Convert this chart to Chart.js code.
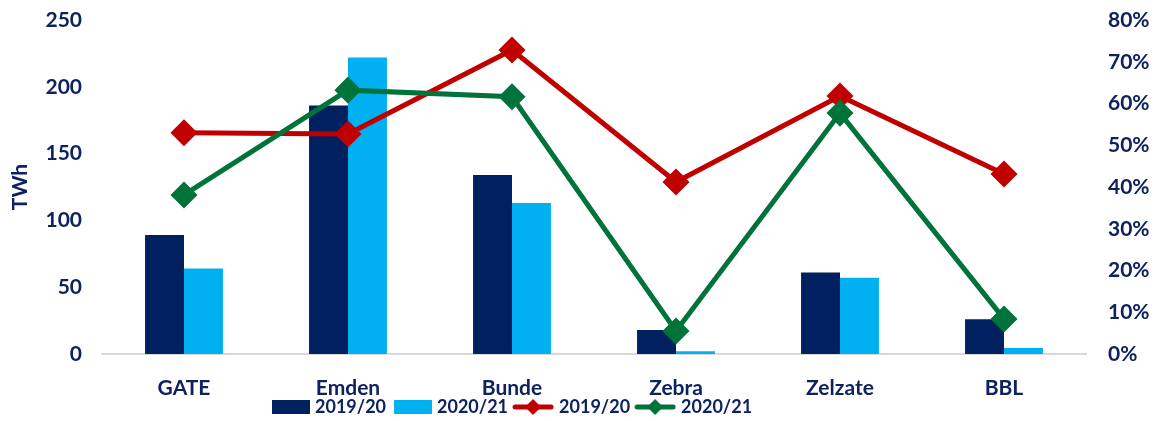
<!DOCTYPE html>
<html>
<head>
<meta charset="utf-8">
<script src="https://cdn.jsdelivr.net/npm/chart.js@4.4.1/dist/chart.umd.min.js"></script>
<style>
  html, body { margin: 0; padding: 0; background: #fff; }
  #wrap { width: 1156px; height: 421px; position: relative; }
</style>
</head>
<body>
<div id="wrap"><canvas id="chart"></canvas></div>
<script>
// data
const categories = ['GATE', 'Emden', 'Bunde', 'Zebra', 'Zelzate', 'BBL'];
const twh1920 = [89, 186, 134, 18, 61, 26];
const twh2021 = [64, 222, 113, 2, 57, 4.5];
const pct1920 = [53, 52.7, 72.8, 41.2, 61.8, 43.1];
const pct2021 = [38.1, 63.2, 61.6, 5.5, 57.7, 8.4];
const leftTicks = [0, 50, 100, 150, 200, 250];
const rightTicks = [0, 10, 20, 30, 40, 50, 60, 70, 80];

const NAVY = '#002060';
const CYAN = '#00b0f0';
const RED = '#c00000';
const GREEN = '#00733a';
const TEXT = '#0e2260';
const FONT = { family: 'Lato', weight: 'bold', size: 21 };

// legend swatches: 50px wide canvas, drawn centred over a 42px legend box
function boxIcon(color) {
  const c = document.createElement('canvas');
  c.width = 50; c.height = 16;
  const g = c.getContext('2d');
  g.fillStyle = color;
  g.fillRect(12, 1, 38, 14);
  return c;
}
function lineIcon(color) {
  const c = document.createElement('canvas');
  c.width = 50; c.height = 18;
  const g = c.getContext('2d');
  g.strokeStyle = color;
  g.lineWidth = 5;
  g.lineCap = 'round';
  g.beginPath(); g.moveTo(11, 9); g.lineTo(47, 9); g.stroke();
  g.fillStyle = color;
  g.beginPath(); g.moveTo(29, 1); g.lineTo(37, 9); g.lineTo(29, 17); g.lineTo(21, 9); g.closePath(); g.fill();
  return c;
}

// the legend sits left of centre in the original
const legendShift = {
  id: 'legendShift',
  afterLayout(chart) { chart.legend.left = 264; }
};

const noVPad = s => { s.paddingTop = 0; s.paddingBottom = 0; };

const ctx = document.getElementById('chart').getContext('2d');
new Chart(ctx, {
  data: {
    labels: categories,
    datasets: [
      {
        type: 'line', label: '2019/20', data: pct1920, yAxisID: 'y1',
        borderColor: RED, backgroundColor: RED, borderWidth: 5,
        pointStyle: 'rectRot', pointRadius: 10, pointHoverRadius: 10,
        legendIcon: lineIcon(RED), order: 1
      },
      {
        type: 'line', label: '2020/21', data: pct2021, yAxisID: 'y1',
        borderColor: GREEN, backgroundColor: GREEN, borderWidth: 5,
        pointStyle: 'rectRot', pointRadius: 10, pointHoverRadius: 10,
        legendIcon: lineIcon(GREEN), order: 0
      },
      {
        type: 'bar', label: '2019/20', data: twh1920, yAxisID: 'y',
        backgroundColor: NAVY, categoryPercentage: 0.475, barPercentage: 1,
        legendIcon: boxIcon(NAVY), order: 2
      },
      {
        type: 'bar', label: '2020/21', data: twh2021, yAxisID: 'y',
        backgroundColor: CYAN, categoryPercentage: 0.475, barPercentage: 1,
        legendIcon: boxIcon(CYAN), order: 3
      }
    ]
  },
  options: {
    responsive: true,
    maintainAspectRatio: false,
    animation: false,
    layout: { padding: { top: 20, left: 0, right: 0, bottom: -5 } },
    plugins: {
      tooltip: { enabled: false },
      legend: {
        position: 'bottom',
        align: 'start',
        labels: {
          usePointStyle: true,
          pointStyleWidth: 42,
          padding: 0,
          color: TEXT,
          font: { family: 'Lato', weight: 'bold', size: 18 },
          // bars first, then lines, like the original
          generateLabels: chart => [2, 3, 0, 1].map(i => {
            const ds = chart.data.datasets[i];
            return { text: ds.label, pointStyle: ds.legendIcon, datasetIndex: i, fontColor: TEXT, lineWidth: 0 };
          })
        }
      }
    },
    scales: {
      x: {
        grid: { display: false },
        border: { display: true, color: '#d9d9d9', width: 2 },
        ticks: { color: TEXT, font: FONT, padding: 14 },
        afterFit: s => { s.height = 44; }
      },
      y: {
        position: 'left', min: 0, max: 250,
        afterBuildTicks: s => { s.ticks = leftTicks.map(v => ({ value: v })); },
        grid: { display: false },
        border: { display: false },
        ticks: { color: TEXT, font: FONT, padding: 12 },
        title: { display: true, text: 'TWh', color: TEXT, font: FONT, padding: { top: 8, bottom: 0 } },
        afterFit: s => { s.width = 102; noVPad(s); }
      },
      y1: {
        position: 'right', min: 0, max: 80,
        afterBuildTicks: s => { s.ticks = rightTicks.map(v => ({ value: v })); },
        grid: { display: false },
        border: { display: false },
        ticks: { color: TEXT, font: FONT, padding: 14, callback: v => v + '%' },
        afterFit: s => { s.width = 70; noVPad(s); }
      }
    }
  },
  plugins: [legendShift]
});
</script>
</body>
</html>
